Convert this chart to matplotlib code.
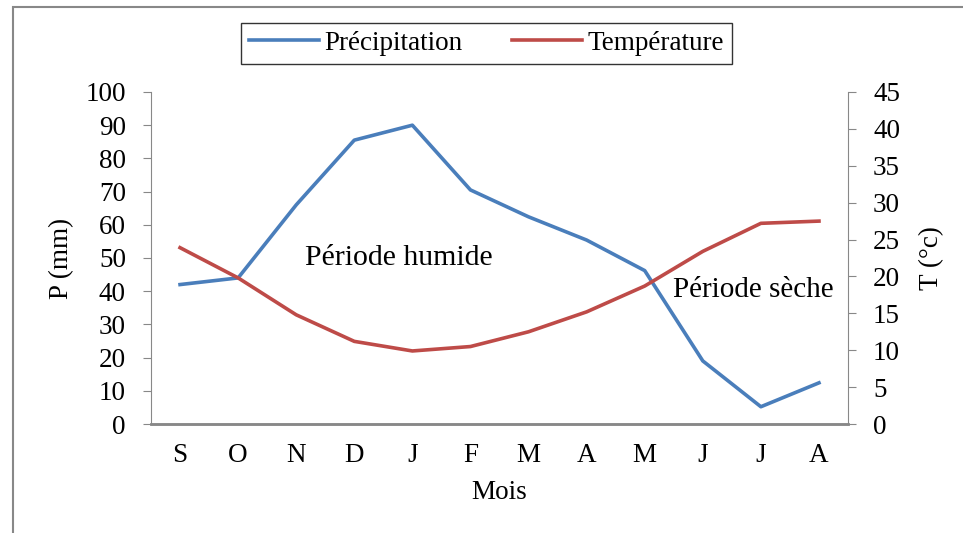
import matplotlib
matplotlib.use('Agg')
import matplotlib.pyplot as plt
from matplotlib.patches import Rectangle

# donnees
mois = ['S', 'O', 'N', 'D', 'J', 'F', 'M', 'A', 'M', 'J', 'J', 'A']
precip = [42, 44, 66, 85.5, 90, 70.5, 62.4, 55.4, 46.2, 19, 5.2, 12.4]
temp = [23.9, 19.8, 14.8, 11.2, 9.9, 10.5, 12.5, 15.2, 18.7, 23.4, 27.2, 27.5]

plt.rcParams['font.family'] = ['Liberation Serif', 'DejaVu Serif']
plt.rcParams['font.size'] = 19.5

fig = plt.figure(figsize=(9.63, 5.33), dpi=100)
ax1 = fig.add_axes([0.1568, 0.2045, 0.7238, 0.6229])
ax2 = ax1.twinx()

x = range(len(mois))
l1, = ax1.plot(x, precip, color='#4a7ebb', lw=2.6, label='Précipitation')
l2, = ax2.plot(x, temp, color='#be4b48', lw=2.6, label='Température')

ax1.set_xlim(-0.5, 11.5)
ax1.set_ylim(0, 100)
ax2.set_ylim(0, 45)
ax1.set_yticks(range(0, 101, 10))
ax2.set_yticks(range(0, 46, 5))
ax1.set_xticks(list(x))
ax1.set_xticklabels(mois)

for ax in (ax1, ax2):
    ax.spines['top'].set_visible(False)
    ax.spines['left'].set_color('#888888')
    ax.spines['right'].set_color('#888888')
    ax.spines['bottom'].set_color('#888888')
    ax.spines['bottom'].set_linewidth(1.8)
    ax.tick_params(axis='y', color='#888888', length=6, width=0.8, pad=12)
ax1.spines['right'].set_visible(False)
ax2.spines['left'].set_visible(False)
ax1.tick_params(axis='x', length=0, pad=14)

ax1.set_ylabel('P (mm)', labelpad=8)
ax2.set_ylabel('T (°c)', labelpad=14)
ax1.set_xlabel('Mois', labelpad=8)

ax1.text(2.15, 50, 'Période humide', va='center', ha='left', fontsize=21.5)
ax1.text(8.49, 40.4, 'Période sèche', va='center', ha='left', fontsize=21)

fig.legend(handles=[l1, l2], loc='center', bbox_to_anchor=(0.505, 0.919), ncol=2,
           frameon=True, fancybox=False, edgecolor='black', handlelength=2.6,
           columnspacing=1.8, borderpad=0.3, handletextpad=0.2, borderaxespad=0)

# cadre gris autour du graphique
fig.patches.append(Rectangle((0.0135, -0.1), 1.1, 1.087, transform=fig.transFigure,
                             fill=False, edgecolor='#888888', lw=1.5))

fig.savefig('out.png', dpi=100)
